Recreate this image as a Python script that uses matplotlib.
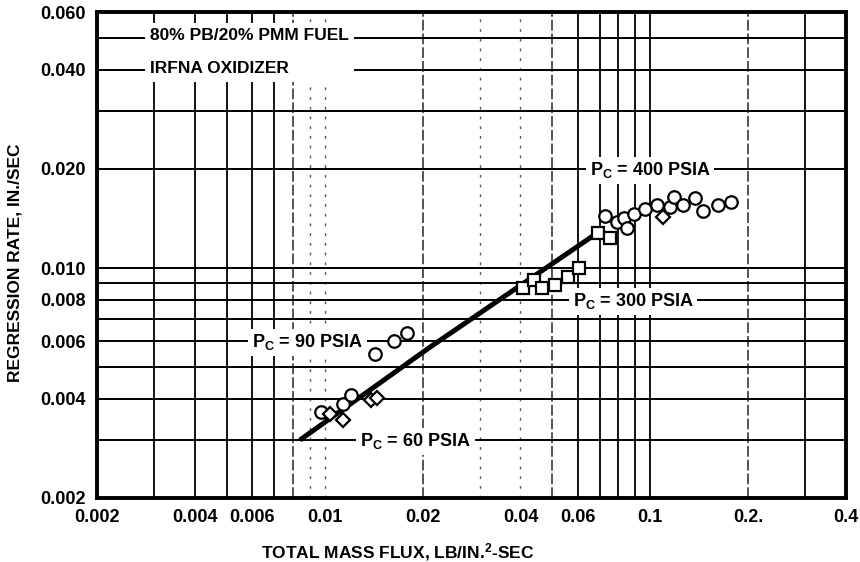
import matplotlib
matplotlib.use("Agg")
import matplotlib.pyplot as plt

# Regression rate data, read in (mass flux, regression rate) pairs
circ_x = [0.00975, 0.0114, 0.0121, 0.0143, 0.0163, 0.0179,
          0.0728, 0.0792, 0.0832, 0.0850, 0.0893, 0.0965, 0.1050, 0.1151,
          0.1186, 0.1262, 0.1374, 0.1455, 0.1618, 0.1774]
circ_y = [0.00365, 0.00386, 0.00411, 0.00548, 0.00600, 0.00635,
          0.0144, 0.0138, 0.0142, 0.01323, 0.01459, 0.0151, 0.01555, 0.01533,
          0.01645, 0.01555, 0.01633, 0.0149, 0.01555, 0.01588]

sq_x = [0.0407, 0.0440, 0.0466, 0.0511, 0.0560, 0.0605, 0.0692, 0.0754]
sq_y = [0.00869, 0.0092, 0.00869, 0.00888, 0.00939, 0.0100, 0.0128, 0.01234]

dia_x = [0.0104, 0.0114, 0.0139, 0.0145, 0.1096]
dia_y = [0.0036, 0.00345, 0.00397, 0.00403, 0.01429]

# correlation line
fit_x = [0.0084, 0.0211, 0.0690]
fit_y = [0.0030, 0.00575, 0.0128]

xticks = [0.002, 0.004, 0.006, 0.01, 0.02, 0.04, 0.06, 0.1, 0.2, 0.4]
xticklabels = ["0.002", "0.004", "0.006", "0.01", "0.02", "0.04", "0.06", "0.1", "0.2.", "0.4"]
yticks = [0.002, 0.004, 0.006, 0.008, 0.010, 0.020, 0.040, 0.060]
yticklabels = ["0.002", "0.004", "0.006", "0.008", "0.010", "0.020", "0.040", "0.060"]

# log paper rulings
vgrid_solid = [0.003, 0.004, 0.005, 0.006, 0.007, 0.06, 0.07, 0.08, 0.09, 0.1, 0.3]
vgrid_dashed = [0.008, 0.02, 0.05, 0.2]
vgrid_faint = [0.009, 0.01, 0.03, 0.04]
hgrid = [0.003, 0.004, 0.005, 0.006, 0.007, 0.008, 0.009, 0.01, 0.02, 0.03, 0.04, 0.05]

plt.rcParams["font.family"] = ["Liberation Sans", "DejaVu Sans"]
plt.rcParams["font.weight"] = "bold"
plt.rcParams["axes.labelweight"] = "bold"
plt.rcParams["mathtext.default"] = "regular"

fig = plt.figure(figsize=(8.6, 5.62), dpi=100)
ax = fig.add_axes([0.1128, 0.1139, 0.8709, 0.8647])
ax.set_xscale("log")
ax.set_yscale("log")
ax.set_xlim(0.002, 0.4)
ax.set_ylim(0.002, 0.06)

for v in vgrid_solid:
    ax.axvline(v, color="black", lw=1.3, zorder=1)
for v in vgrid_dashed:
    ax.axvline(v, color="0.15", lw=1.1, ls=(0, (7, 2)), zorder=1)
for v in vgrid_faint:
    ax.axvline(v, color="0.35", lw=1.0, ls=(0, (2, 5)), zorder=1)
for h in hgrid:
    ax.axhline(h, color="black", lw=1.4, zorder=1)

ax.plot(fit_x, fit_y, color="black", lw=3.6, solid_capstyle="butt", zorder=4)

mk = dict(ls="none", mfc="white", mec="black", mew=1.6, zorder=5)
ax.plot(circ_x, circ_y, "o", ms=9, **mk)
ax.plot(sq_x, sq_y, "s", ms=8.5, **mk)
ax.plot(dia_x, dia_y, "D", ms=7.5, **mk)

box = dict(boxstyle="square,pad=0.2", fc="white", ec="none")


def label(x, y, text):
    ax.annotate(text, xy=(x, y), xytext=(0, -4.5), textcoords="offset points",
                ha="left", va="baseline", fontsize=13, bbox=box, zorder=6)


label(0.0654, 0.020, "P$_C$ = 400 PSIA")
label(0.0580, 0.008, "P$_C$ = 300 PSIA")
label(0.00599, 0.006, "P$_C$ = 90 PSIA")
label(0.01286, 0.003, "P$_C$ = 60 PSIA")

ax.text(0.00291, 0.0452, "80% PB/20% PMM FUEL\nIRFNA OXIDIZER", ha="left", va="center",
        fontsize=12.5, linespacing=2.5, zorder=6,
        bbox=dict(boxstyle="square,pad=0.3", fc="white", ec="none"))

ax.set_xticks(xticks)
ax.set_xticklabels(xticklabels)
ax.set_yticks(yticks)
ax.set_yticklabels(yticklabels)
ax.minorticks_off()
ax.tick_params(length=0, labelsize=13, pad=8)

ax.set_ylabel("REGRESSION RATE, IN./SEC", fontsize=12.5)
ax.yaxis.set_label_coords(-0.1, 0.4835)
ax.set_xlabel("TOTAL MASS FLUX, LB/IN.$^2$-SEC", fontsize=12.5)
ax.xaxis.set_label_coords(0.402, -0.088)

for s in ax.spines.values():
    s.set_linewidth(2.8)
    s.set_zorder(7)

fig.savefig("out.png", dpi=100)
